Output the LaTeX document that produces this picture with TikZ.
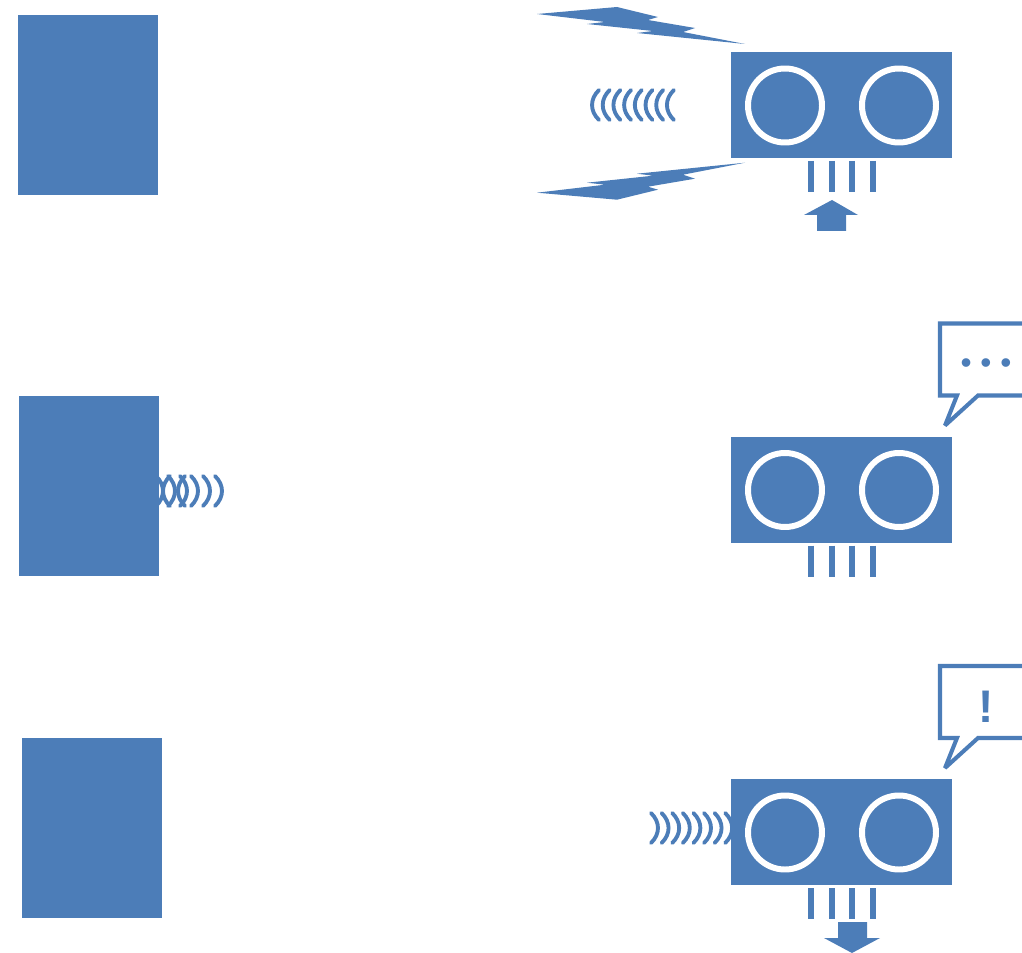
\documentclass[tikz,border=0pt]{standalone}
\usepackage{fontspec}
\setmainfont{Liberation Sans}
\usepackage{xcolor}
\definecolor{sensorblue}{HTML}{4C7DB8}
\tikzset{
  block/.style={fill=sensorblue, minimum width=2.8cm, minimum height=3.6cm, inner sep=0pt},
  wave/.style={sensorblue, line width=2.2pt, line cap=round},
  lefthalf/.pic={\draw[wave] (7,-15) .. controls (-2.3,-6) and (-2.3,6) .. (7,15);},
  righthalf/.pic={\draw[wave] (-7,-15) .. controls (2.3,-6) and (2.3,6) .. (-7,15);},
  sensor/.pic={
    \fill[sensorblue] (0,0) rectangle (221,106);
    \draw[white, line width=3.4pt] (54,53.5) circle (37);
    \draw[white, line width=3.4pt] (168,53.5) circle (37);
    \foreach \xpin in {80,101,121,142}
      \draw[sensorblue, line width=3.4pt] (\xpin,109) -- (\xpin,140);
  },
  bubble/.pic={
    \draw[sensorblue, line width=2.3pt, fill=white, line join=miter, miter limit=2]
      (83,-113) -- (1,-113) -- (1,-41) -- (18,-41) -- (6,-11) -- (39,-41) -- (83,-41);
  }
}
\begin{document}
\begin{tikzpicture}[x=0.02cm, y=-0.02cm]
  \useasboundingbox (0,0) rectangle (1022,953);
  % Obstacles
  \node[block] (blockA) at (88,105) {};
  \node[block] (blockB) at (89,486) {};
  \node[block] (blockC) at (92,828) {};
  % Sensors
  \pic at (731,52) {sensor};
  \pic at (731,436.5) {sensor};
  \pic at (731,779) {sensor};
  % bolts
  \fill[sensorblue] (537,14) -- (617,7) -- (658,17) -- (648,20) -- (695,28) -- (683,32) -- (745,44)
    -- (637,33) -- (653,31) -- (587,24) -- (605,22) -- cycle;
  \fill[sensorblue] (537,192.7) -- (617,199.7) -- (658,189.7) -- (648,186.7) -- (695,178.7) -- (683,174.7) -- (745,162.7)
    -- (637,173.7) -- (653,175.7) -- (587,182.7) -- (605,184.7) -- cycle;
  % waves
  \foreach \xwave in {0,...,7}
    \pic at ({592+10.7*\xwave},105) {lefthalf};
  \foreach \xwave in {163,175,187,198,210,222}
    \pic at (\xwave,491) {righthalf};
  \foreach \xwave in {163,178}
    \pic at (\xwave,491) {lefthalf};
  \foreach \xwave in {0,...,7}
    \pic at ({658+10.6*\xwave},828) {righthalf};
  % speech bubbles
  \pic at (939,436.5) {bubble};
  \pic at (939,779) {bubble};
  \node[sensorblue, font=\fontsize{18}{18}\selectfont, inner sep=0pt] (dots) at (986,366) {• • •};
  \node[sensorblue, font=\fontsize{26}{26}\bfseries, inner sep=0pt] (bang) at (986,707) {!};
  % arrows
  \fill[sensorblue] (832,200) -- (858,215) -- (846,215) -- (846,231) -- (817,231) -- (817,215) -- (804,215) -- cycle;
  \fill[sensorblue] (852,953) -- (880,938) -- (867,938) -- (867,922) -- (838,922) -- (838,938) -- (824,938) -- cycle;
\end{tikzpicture}
\end{document}
